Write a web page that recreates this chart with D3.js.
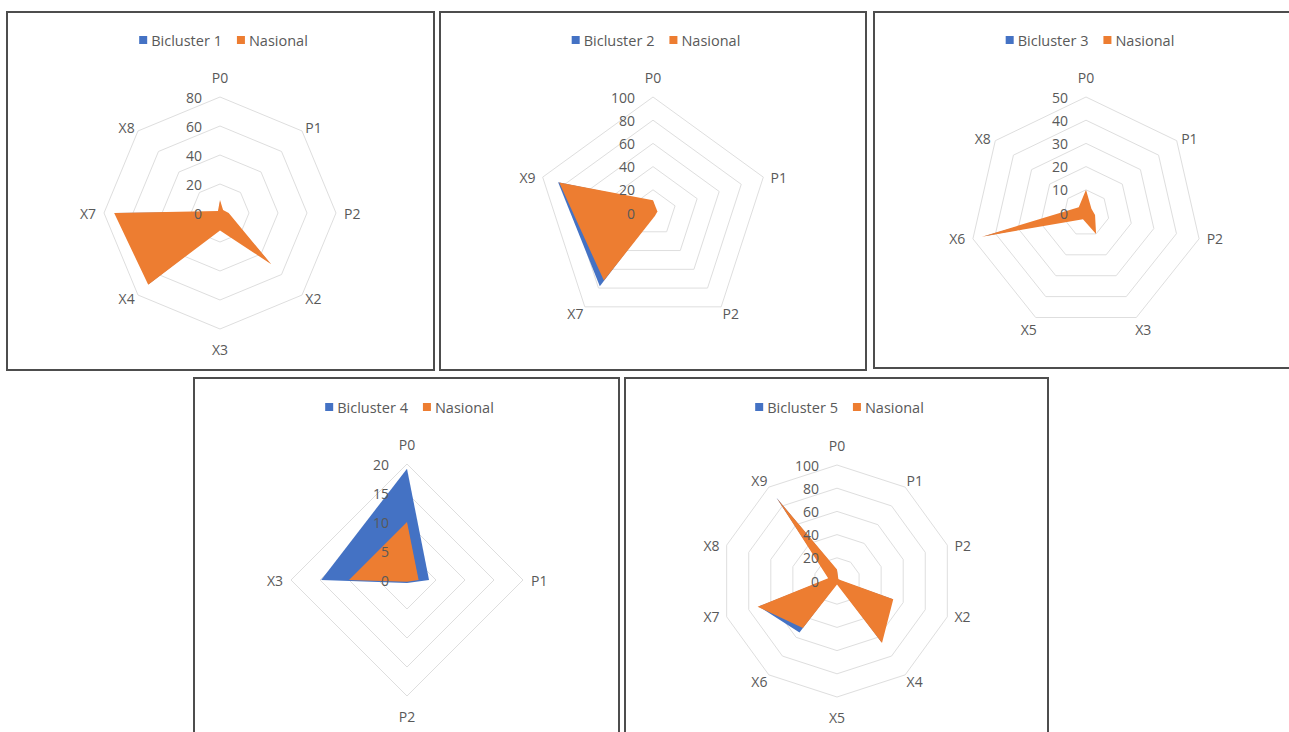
<!DOCTYPE html>
<html>
<head>
<meta charset="utf-8">
<script src="https://cdn.jsdelivr.net/npm/d3@7"></script>
<style>
  html, body { margin: 0; padding: 0; background: #ffffff; }
  svg { display: block; font-family: "Open Sans", "Liberation Sans", sans-serif; }
</style>
</head>
<body>
<svg id="chart" width="1289" height="732"></svg>
<script>
// ---- Bicluster 1 ----
const axes1 = ["P0", "P1", "P2", "X2", "X3", "X4", "X7", "X8"];
const bicluster1 = [8, 2, 5, 48, 11, 69, 72, 1];
const nasional1 = [9, 3, 6, 50, 12, 70, 73, 2];
const ticks1 = [0, 20, 40, 60, 80];

// ---- Bicluster 2 ----
const axes2 = ["P0", "P1", "P2", "X7", "X9"];
const bicluster2 = [10, 3, 2, 78, 86];
const nasional2 = [11, 4, 3, 72, 85];
const ticks2 = [0, 20, 40, 60, 80, 100];

// ---- Bicluster 3 ----
const axes3 = ["P0", "P1", "P2", "X3", "X5", "X6", "X8"];
const bicluster3 = [9, 2, 3, 9, 2, 45, 3];
const nasional3 = [10, 3, 4, 10, 3, 46, 4];
const ticks3 = [0, 10, 20, 30, 40, 50];

// ---- Bicluster 4 ----
const axes4 = ["P0", "P1", "P2", "X3"];
const bicluster4 = [19.2, 3.8, 0.5, 14.8];
const nasional4 = [10, 2, 0.3, 10];
const ticks4 = [0, 5, 10, 15, 20];

// ---- Bicluster 5 ----
const axes5 = ["P0", "P1", "P2", "X2", "X4", "X5", "X6", "X7", "X8", "X9"];
const bicluster5 = [9, 1, 2, 50, 65, 2, 55, 71, 7, 89];
const nasional5 = [10, 2, 3, 51, 66, 3, 50, 72, 8, 88];
const ticks5 = [0, 20, 40, 60, 80, 100];

const seriesNames = ["Bicluster 1", "Bicluster 2", "Bicluster 3", "Bicluster 4", "Bicluster 5"];
const nationalName = "Nasional";

const BLUE = "#4472C4";
const ORANGE = "#ED7D31";
const TEXT = "#595959";
const GRID = "#dedede";
const R = 116;

const panels = [
  { box: [7, 12, 427, 358], cx: 220, cy: 213, legendY: 40, axes: axes1, blue: bicluster1, orange: nasional1, ticks: ticks1, name: seriesNames[0] },
  { box: [440, 12, 426, 358], cx: 653, cy: 213, legendY: 40, axes: axes2, blue: bicluster2, orange: nasional2, ticks: ticks2, name: seriesNames[1] },
  { box: [874, 12, 426, 356], cx: 1086, cy: 213, legendY: 40, axes: axes3, blue: bicluster3, orange: nasional3, ticks: ticks3, name: seriesNames[2] },
  { box: [194, 378, 425, 370], cx: 407, cy: 580, legendY: 407, axes: axes4, blue: bicluster4, orange: nasional4, ticks: ticks4, name: seriesNames[3] },
  { box: [625, 378, 423, 370], cx: 837, cy: 581, legendY: 407, axes: axes5, blue: bicluster5, orange: nasional5, ticks: ticks5, name: seriesNames[4] }
];

const svg = d3.select("#chart");

panels.forEach(p => {
  const g = svg.append("g");
  const [bx, by, bw, bh] = p.box;

  // chart frame
  g.append("rect")
    .attr("x", bx).attr("y", by).attr("width", bw).attr("height", bh)
    .attr("fill", "#ffffff").attr("stroke", "#4d4d4d").attr("stroke-width", 2);

  const n = p.axes.length;
  const maxV = p.ticks[p.ticks.length - 1];
  const r = d3.scaleLinear().domain([0, maxV]).range([0, R]);
  const angle = d3.scaleLinear().domain([0, n]).range([0, 2 * Math.PI]);
  const idx = d3.range(n);

  const plot = g.append("g").attr("transform", `translate(${p.cx},${p.cy})`);

  // concentric polygon gridlines
  const ringLine = d3.lineRadial()
    .angle(i => angle(i))
    .curve(d3.curveLinearClosed);
  p.ticks.filter(t => t > 0).forEach(t => {
    plot.append("path")
      .attr("d", ringLine.radius(() => r(t))(idx))
      .attr("fill", "none").attr("stroke", GRID).attr("stroke-width", 1);
  });

  // filled series
  const area = vals => d3.lineRadial()
    .angle((d, i) => angle(i))
    .radius(d => r(d))
    .curve(d3.curveLinearClosed)(vals);

  plot.append("path").attr("d", area(p.blue)).attr("fill", BLUE);
  plot.append("path").attr("d", area(p.orange)).attr("fill", ORANGE);

  // category labels, pushed out so they clear the outer ring
  idx.forEach(i => {
    const a = angle(i);
    const s = Math.sin(a), c = Math.cos(a);
    const t = plot.append("text")
      .attr("fill", TEXT).attr("font-size", 14)
      .attr("text-anchor", "middle")
      .attr("dominant-baseline", "central")
      .text(p.axes[i]);
    const w = t.node().getComputedTextLength();
    const x = s * (R + 8) + s * w / 2;
    const y = -c * R - Math.sign(c) * Math.pow(Math.abs(c), 5) * 20;
    t.attr("x", x).attr("y", y);
  });

  // value tick labels along the first axis
  p.ticks.forEach(t => {
    plot.append("text")
      .attr("x", -18).attr("y", -r(t))
      .attr("text-anchor", "end")
      .attr("dominant-baseline", "central")
      .attr("fill", TEXT).attr("font-size", 14)
      .text(t);
  });

  // legend
  const leg = g.append("g");
  const items = [{ label: p.name, color: BLUE }, { label: nationalName, color: ORANGE }];
  let x = 0;
  items.forEach(it => {
    leg.append("rect").attr("x", x).attr("y", p.legendY - 4).attr("width", 8).attr("height", 8).attr("fill", it.color);
    const t = leg.append("text")
      .attr("x", x + 12).attr("y", p.legendY)
      .attr("dominant-baseline", "central")
      .attr("fill", TEXT).attr("font-size", 14.5)
      .text(it.label);
    x += 12 + t.node().getComputedTextLength() + 15;
  });
  const totalW = x - 15;
  leg.attr("transform", `translate(${bx + bw / 2 + 3 - totalW / 2},0)`);
});
</script>
</body>
</html>
